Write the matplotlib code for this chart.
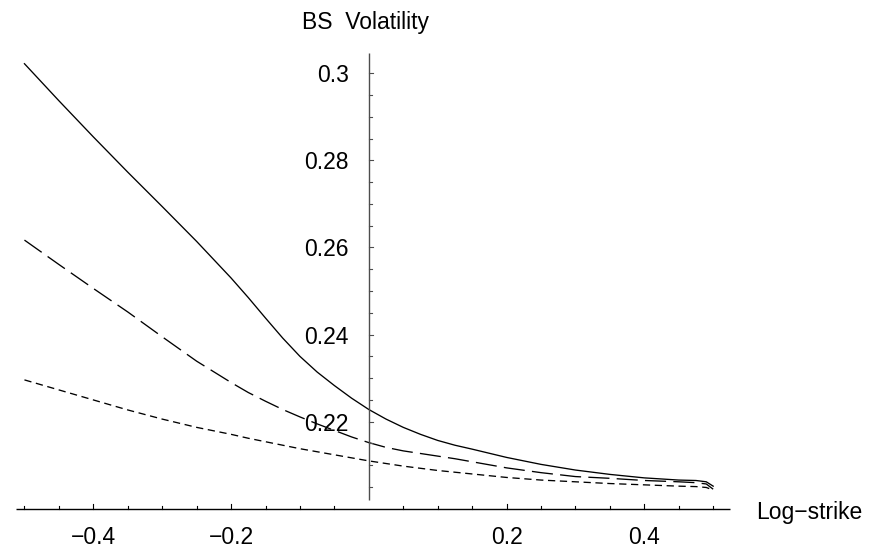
import numpy as np
import matplotlib

matplotlib.use("Agg")
import matplotlib.pyplot as plt

plt.rcParams["font.family"] = ["Liberation Sans", "DejaVu Sans"]

# log-strike grid and implied BS volatilities
log_strike = [-0.50, -0.45, -0.40, -0.35, -0.30, -0.25, -0.20, -0.175, -0.15, -0.125,
              -0.10, -0.075, -0.05, -0.025, 0.00, 0.025, 0.05, 0.075, 0.10, 0.125,
              0.15, 0.20, 0.25, 0.30, 0.35, 0.40, 0.45, 0.475, 0.49, 0.50]
vol_solid = [0.3022, 0.2937, 0.2854, 0.2773, 0.2694, 0.2614, 0.2530, 0.2485, 0.2438, 0.2392,
             0.2350, 0.2314, 0.2283, 0.2254, 0.2228, 0.2206, 0.2187, 0.2171, 0.2157, 0.2146,
             0.2137, 0.2118, 0.2102, 0.2089, 0.2079, 0.2071, 0.2066, 0.2065, 0.2062, 0.2052]
vol_long = [0.2617, 0.2561, 0.2506, 0.2452, 0.2395, 0.2339, 0.2290, 0.2267, 0.2247, 0.2228,
            0.2211, 0.2195, 0.2180, 0.2165, 0.2152, 0.2141, 0.2133, 0.2127, 0.2121, 0.2115,
            0.2108, 0.2094, 0.2083, 0.2074, 0.2070, 0.2065, 0.2062, 0.2060, 0.2057, 0.2045]
vol_short = [0.2296, 0.2273, 0.2250, 0.2227, 0.2206, 0.2187, 0.2171, 0.2162, 0.2154, 0.2146,
             0.2138, 0.2131, 0.2124, 0.2117, 0.2110, 0.2104, 0.2098, 0.2093, 0.2088, 0.2084,
             0.2080, 0.2072, 0.2066, 0.2062, 0.2058, 0.2055, 0.2052, 0.2051, 0.2049, 0.2043]

x_major = [-0.4, -0.2, 0.2, 0.4]
x_labels = ["\u22120.4", "\u22120.2", "0.2", "0.4"]
y_major = [0.22, 0.24, 0.26, 0.28, 0.30]
y_labels = ["0.22", "0.24", "0.26", "0.28", "0.3"]

FS = 16.5

fig = plt.figure(figsize=(8.7, 5.49), dpi=100)
ax = fig.add_axes([0, 0, 1, 1])
ax.set_xlim(-0.5355, 0.7277)
ax.set_ylim(0.19077, 0.31683)
for s in ax.spines.values():
    s.set_visible(False)
ax.set_xticks([])
ax.set_yticks([])

ax.plot(log_strike, vol_solid, color="black", lw=0.95)
ax.plot(log_strike, vol_long, color="black", lw=0.95, dashes=(16, 5.5))
ax.plot(log_strike, vol_short, color="black", lw=0.95, dashes=(5.5, 3.5))

# Mathematica-style axes crossing at (0, 0.2)
y0 = 0.2
ax.plot([-0.512, 0.525], [y0, y0], color="black", lw=1.0, solid_capstyle="butt")
ax.plot([0, 0], [0.2020, 0.30466], color="0.3", lw=1.0, solid_capstyle="butt")

px_x = 688.75  # pixels per unit x
px_y = 4355.0  # pixels per unit y
for xm in np.arange(-0.5, 0.5001, 0.05):
    if abs(xm) < 1e-9:
        continue
    major = any(abs(xm - v) < 1e-9 for v in x_major)
    h = (5.0 if major else 2.5) / px_y
    ax.plot([xm, xm], [y0, y0 + h], color="black", lw=0.8)
for ym in np.arange(0.205, 0.3001, 0.005):
    major = any(abs(ym - v) < 1e-9 for v in y_major)
    w = (4.5 if major else 2.7) / px_x
    ax.plot([0, w], [ym, ym], color="0.3", lw=0.8)

for xv, lab in zip(x_major, x_labels):
    ax.annotate(lab, (xv, y0), xytext=(0, -18.8), textcoords="offset points",
                ha="center", va="center_baseline", fontsize=FS)
for yv, lab in zip(y_major, y_labels):
    ax.annotate(lab, (0, yv), xytext=(-14.3, 0), textcoords="offset points",
                ha="right", va="center_baseline", fontsize=FS)

fig.text(302 / 870, 1 - 20 / 549, "BS  Volatility", ha="left", va="center_baseline", fontsize=FS)
fig.text(756 / 870, 1 - 510 / 549, "Log\u2212strike", ha="left", va="center_baseline", fontsize=FS)

fig.savefig("out.png", dpi=100)
